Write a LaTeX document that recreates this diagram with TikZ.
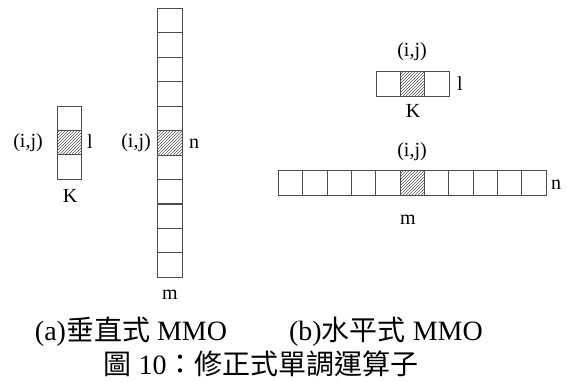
\documentclass[tikz,border=0pt]{standalone}
\usepackage{fontspec}
\setmainfont{Liberation Serif}
\newfontfamily\cjk{Noto Sans CJK TC}
\usetikzlibrary{patterns}
\begin{document}
\begin{tikzpicture}[x=1pt,y=-1pt,
  cell/.style={draw=black!70, line width=0.8pt, minimum width=24.4pt, minimum height=24.4pt, inner sep=0pt, outer sep=0pt},
  hcell/.style={cell, pattern=north east lines, pattern color=black!65},
  lbl/.style={font=\fontsize{20}{20}\selectfont, inner sep=0pt},
  captext/.style={font=\fontsize{28}{28}\selectfont, inner sep=0pt}]
\useasboundingbox (0,0) rectangle (567,382);
% (a) small column K
\foreach \i in {0,1,2}{
  \ifnum\i=1
    \node[hcell] (ka\i) at (69.2,{118.2+24.4*\i}) {};
  \else
    \node[cell] (ka\i) at (69.2,{118.2+24.4*\i}) {};
  \fi
}
\node[lbl] (kaij) at (28,143) {(i,j)};
\node[lbl] (kal) at (90,142) {l};
\node[lbl] (kak) at (70,196) {K};
% (a) tall column
\foreach \i in {0,...,10}{
  \ifnum\i=5
    \node[hcell] (ta\i) at (169.7,{20.5+24.45*\i}) {};
  \else
    \node[cell] (ta\i) at (169.7,{20.5+24.45*\i}) {};
  \fi
}
\node[lbl] (taij) at (136,143) {(i,j)};
\node[lbl] (tan) at (194,144) {n};
\node[lbl] (tam) at (170,295) {m};
% (b) small row
\foreach \i in {0,1,2}{
  \ifnum\i=1
    \node[hcell] (kb\i) at ({388.2+24.4*\i},83.9) {};
  \else
    \node[cell] (kb\i) at ({388.2+24.4*\i},83.9) {};
  \fi
}
\node[lbl] (kbij) at (412,52) {(i,j)};
\node[lbl] (kbl) at (460,84) {l};
\node[lbl] (kbk) at (413,111) {K};
% (b) long row
\foreach \i in {0,...,10}{
  \ifnum\i=5
    \node[hcell] (tb\i) at ({290.5+24.35*\i},182.9) {};
  \else
    \node[cell] (tb\i) at ({290.5+24.35*\i},182.9) {};
  \fi
}
\node[lbl] (tbij) at (412,152) {(i,j)};
\node[lbl] (tbn) at (556,185) {n};
\node[lbl] (tbm) at (408,220) {m};
% captions
\node[captext] (capa) at (131,332) {(a){\cjk 垂直式} MMO};
\node[captext] (capb) at (386,332) {(b){\cjk 水平式} MMO};
\node[captext] (capm) at (261,364) {{\cjk 圖} 10{\cjk ：修正式單調運算子}};
\end{tikzpicture}
\end{document}
